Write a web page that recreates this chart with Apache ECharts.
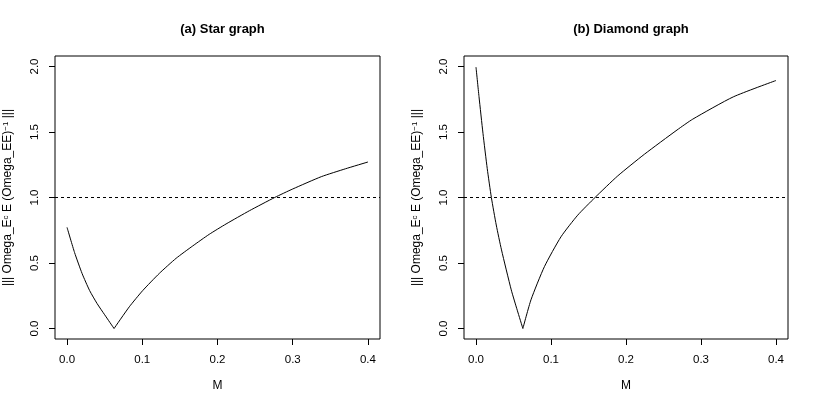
<!DOCTYPE html>
<html lang="en">
<head>
    <meta charset="UTF-8">
    <title>Star / Diamond graph</title>
    <style>
        html, body { margin: 0; padding: 0; background: #fff; }
        #main { width: 817px; height: 409px; }
    </style>
</head>
<body>

<div id="main"></div>

<script type="text/javascript" src="https://cdn.jsdelivr.net/npm/echarts@6/dist/echarts.min.js"></script>
<script type="text/javascript">

    // values
    var starM = [0, 0.01, 0.02, 0.03, 0.04, 0.05, 0.0625, 0.0828, 0.1005, 0.1227, 0.145, 0.167, 0.189, 0.2114, 0.2424, 0.276, 0.3, 0.338, 0.37, 0.4];
    var starVal = [0.772, 0.58, 0.42, 0.29, 0.19, 0.105, 0.0, 0.166, 0.289, 0.421, 0.536, 0.63, 0.719, 0.798, 0.899, 1.0, 1.065, 1.159, 1.219, 1.271];

    var diamondM = [0, 0.004, 0.0093, 0.015, 0.0205, 0.027, 0.034, 0.047, 0.055, 0.0625, 0.0733, 0.0912, 0.1133, 0.1356, 0.1587, 0.189, 0.2245, 0.268, 0.289, 0.343, 0.4];
    var diamondVal = [1.995, 1.77, 1.49, 1.22, 1.0, 0.79, 0.60, 0.295, 0.14, 0.0, 0.219, 0.472, 0.70, 0.865, 1.0, 1.165, 1.33, 1.515, 1.598, 1.768, 1.893];

    var titles = ['(a) Star graph', '(b) Diamond graph'];
    var refLine = 1;

    var FONT = "'Liberation Sans', Arial, Helvetica, sans-serif";

    // tick range, and the box range (R adds 4% on each side)
    var xMin = 0, xMax = 0.4, xStep = 0.1;
    var yMin = 0, yMax = 2, yStep = 0.5;
    var xLo = xMin - (xMax - xMin) * 0.04, xHi = xMax + (xMax - xMin) * 0.04;
    var yLo = yMin - (yMax - yMin) * 0.04, yHi = yMax + (yMax - yMin) * 0.04;

    var BOX_TOP = 56, BOX_H = 283, TICK = 6;

    var Y_NAME = '{n|||| Omega_E}{s|c}{n| E (Omega_EE)}{s|\u22121}{n| |||}';
    var nameStyle = {
        fontFamily: FONT, fontSize: 12, color: '#000',
        rich: {
            n: { fontFamily: FONT, fontSize: 12, color: '#000' },
            s: { fontFamily: FONT, fontSize: 8, color: '#000', verticalAlign: 'top' }
        }
    };
    var black = { color: '#000', width: 1, type: 'solid' };
    var fmt = function (v) { return v.toFixed(1); };

    // split a curve at its minimum so the kink stays sharp
    function halves(m, v) {
        var k = 0;
        for (var i = 1; i < v.length; i++) {
            if (v[i] < v[k]) k = i;
        }
        var a = [], b = [];
        for (var j = 0; j < m.length; j++) {
            if (j <= k) a.push([m[j], v[j]]);
            if (j >= k) b.push([m[j], v[j]]);
        }
        return [a, b];
    }

    var grids = [], xAxes = [], yAxes = [], series = [], titleList = [];

    function hidden(g, lo, hi) {
        return { type: 'value', gridIndex: g, min: lo, max: hi, show: false };
    }

    // one panel = framed plot box + a thin strip below and one to the left,
    // whose split lines are the outward tick marks
    function panel(p, left, width, m, v) {
        var g = grids.length;
        var tx0 = left + width * (xMin - xLo) / (xHi - xLo);
        var tw = width * (xMax - xMin) / (xHi - xLo);
        var ty0 = BOX_TOP + BOX_H * (yHi - yMax) / (yHi - yLo);
        var th = BOX_H * (yMax - yMin) / (yHi - yLo);

        grids.push(
            { left: left, top: BOX_TOP, width: width, height: BOX_H, show: true, borderColor: '#000', borderWidth: 1, backgroundColor: 'transparent' },
            { left: tx0, top: BOX_TOP + BOX_H, width: tw, height: TICK },
            { left: left - TICK, top: ty0, width: TICK, height: th }
        );

        xAxes.push(
            hidden(g, xLo, xHi),
            {
                type: 'value', gridIndex: g + 1, min: xMin, max: xMax, interval: xStep, position: 'bottom',
                name: 'M', nameLocation: 'middle', nameGap: 35,
                nameTextStyle: { fontFamily: FONT, fontSize: 12, color: '#000' },
                axisLine: { show: false, onZero: false },
                axisTick: { show: false },
                axisLabel: { margin: 8.5, fontFamily: FONT, fontSize: 11.5, color: '#000', formatter: fmt },
                splitLine: { show: true, lineStyle: black }
            },
            hidden(g + 2, 0, 1)
        );

        yAxes.push(
            hidden(g, yLo, yHi),
            hidden(g + 1, 0, 1),
            {
                type: 'value', gridIndex: g + 2, min: yMin, max: yMax, interval: yStep, position: 'left',
                name: Y_NAME, nameLocation: 'middle', nameRotate: 90, nameGap: 35.5, nameTextStyle: nameStyle,
                axisLine: { show: false, onZero: false },
                axisTick: { show: false },
                axisLabel: { margin: 8, rotate: 90, fontFamily: FONT, fontSize: 11.5, color: '#000', formatter: fmt },
                splitLine: { show: true, lineStyle: black }
            }
        );

        var parts = halves(m, v);
        for (var i = 0; i < parts.length; i++) {
            series.push({
                type: 'line', xAxisIndex: g, yAxisIndex: g,
                data: parts[i], symbol: 'none', smooth: 0.2,
                lineStyle: black, silent: true
            });
        }
        series.push({
            type: 'line', xAxisIndex: g, yAxisIndex: g,
            data: [[xLo, refLine], [xHi, refLine]],
            symbol: 'none', silent: true,
            lineStyle: { color: '#000', width: 1, type: [3, 3] }
        });

        titleList.push({
            text: titles[p], left: left + width / 2, top: 18, textAlign: 'center',
            textStyle: { fontFamily: FONT, fontSize: 13, fontWeight: 'bold', color: '#000' }
        });
    }

    panel(0, 55, 325, starM, starVal);
    panel(1, 464, 324, diamondM, diamondVal);

    var chart = echarts.init(document.getElementById('main'), null, { renderer: 'canvas' });

    chart.setOption({
        animation: false,
        backgroundColor: '#fff',
        title: titleList,
        grid: grids,
        xAxis: xAxes,
        yAxis: yAxes,
        series: series
    });
</script>
</body>
</html>
